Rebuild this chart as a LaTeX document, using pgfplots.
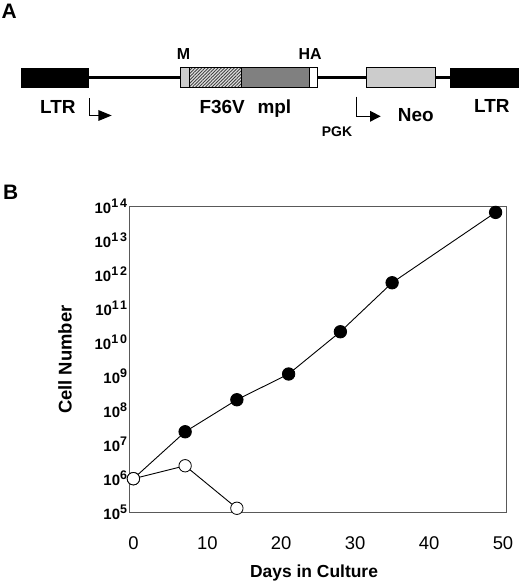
\documentclass[border=0pt]{standalone}
\usepackage{pgfplots}
\pgfplotsset{compat=1.18}
\usepackage{fontspec}
\setmainfont{Liberation Sans}
\usetikzlibrary{patterns.meta}
\newcommand\tl[1]{\textbf{10}\raisebox{0.40em}{\fontsize{12.5}{12.5}\selectfont\bfseries\addfontfeatures{LetterSpace=15}#1}}
\begin{document}
\begin{tikzpicture}
\useasboundingbox (0,0) rectangle (520bp,582bp);
\begin{scope}[x=1bp,y=-1bp,yshift=582bp]
 % panel A
 \node[anchor=base west,inner sep=0,font=\fontsize{21}{21}\selectfont\bfseries] at (1.5,18.3) {A};
 \draw[line width=2.4bp] (89,77.7) -- (450,77.7);
 \fill[black] (20.7,68.3) rectangle (89.3,88.3);
 \fill[black] (449.5,68.3) rectangle (518.5,88.3);
 \draw[line width=0.7bp, fill=black!20] (180.7,67.7) rectangle (189.3,87.7);
 \fill[black!12] (189.3,67.7) rectangle (241.7,87.7);
 \fill[pattern={Lines[angle=45,distance=2.3bp,line width=0.9bp]}, pattern color=black!75] (189.3,67.7) rectangle (241.7,87.7);
 \fill[black!50] (241.7,67.7) rectangle (309.3,87.7);
 \fill[white] (309.3,67.7) rectangle (317.3,87.7);
 \draw[line width=0.7bp] (180.7,67.7) rectangle (317.3,87.7);
 \draw[line width=0.7bp] (189.3,67.7) -- (189.3,87.7);
 \draw[line width=0.7bp] (241.7,67.7) -- (241.7,87.7);
 \draw[line width=0.7bp] (309.3,67.7) -- (309.3,87.7);
 \draw[line width=0.7bp, fill=black!20] (366.7,67.7) rectangle (435,87.7);
 % promoter arrows
 \draw[line width=0.8bp] (89.3,98.3) -- (89.3,115.5) -- (99,115.5);
 \fill (98.3,110) -- (111.7,115.5) -- (98.3,121) -- cycle;
 \draw[line width=0.8bp] (356.7,96.7) -- (356.7,116.3) -- (371,116.3);
 \fill (370,110.8) -- (380.7,116.3) -- (370,121.8) -- cycle;
 % labels
 \begin{scope}[every node/.style={anchor=base west,inner sep=0}]
 \node[font=\fontsize{19}{19}\selectfont\bfseries] at (40,113.3) {LTR};
 \node[font=\fontsize{19}{19}\selectfont\bfseries] at (199.3,113.3) {F36V};
 \node[font=\fontsize{19}{19}\selectfont\bfseries] at (257.3,113.3) {mpl};
 \node[font=\fontsize{16}{16}\selectfont\bfseries] at (176.7,60) {M};
 \node[font=\fontsize{16}{16}\selectfont\bfseries] at (298.3,60) {HA};
 \node[font=\fontsize{14}{14}\selectfont\bfseries] at (321.7,136.7) {PGK};
 \node[font=\fontsize{19}{19}\selectfont\bfseries] at (397.7,121.7) {Neo};
 \node[font=\fontsize{19}{19}\selectfont\bfseries] at (474,112.3) {LTR};
 \node[font=\fontsize{21}{21}\selectfont\bfseries] at (3,200) {B};
 \end{scope}
\end{scope}
\begin{axis}[
  at={(129.7bp,69.3bp)}, anchor=south west,
  scale only axis, width=377bp, height=306bp,
  ymode=log, xmin=-0.5, xmax=50.5, ymin=1e5, ymax=1e14,
  clip=false,
  axis line style={draw=black!65, line width=0.8bp},
  major tick length=0pt, minor tick length=0pt,
  xtick={0,10,20,30,40,50},
  ytick={1e5,1e6,1e7,1e8,1e9,1e10,1e11,1e12,1e13,1e14},
  yticklabels={\tl{5},\tl{6},\tl{7},\tl{8},\tl{9},\tl{10},\tl{11},\tl{12},\tl{13},\tl{14}},
  yticklabel style={font=\fontsize{15}{15}\selectfont, inner sep=2.5bp},
  xticklabel style={font=\fontsize{18.5}{18.5}\selectfont, anchor=base, yshift=-37bp},
  /pgf/number format/assume math mode=true,
  xlabel={Days in Culture},
  xlabel style={font=\fontsize{17.5}{17.5}\selectfont\bfseries, at={(axis description cs:0.489,0)}, anchor=base, yshift=-64.3bp},
  ylabel={Cell Number},
  ylabel style={font=\fontsize{18.5}{18.5}\selectfont\bfseries, at={(axis description cs:-0.1716,0.5)}, anchor=center},
]
\addplot[black, line width=0.9bp, mark=*, mark size=6.2bp, mark options={fill=black}]
 coordinates {(0,1.0e6) (7,2.4e7) (14,2.1e8) (21,1.2e9) (28,2.1e10) (35,5.8e11) (49,6.8e13)};
\addplot[black, line width=0.9bp, mark=*, mark size=6.2bp, mark options={fill=white, line width=0.8bp}]
 coordinates {(0,1.0e6) (7,2.4e6) (14,1.35e5)};
\end{axis}
\end{tikzpicture}
\end{document}
